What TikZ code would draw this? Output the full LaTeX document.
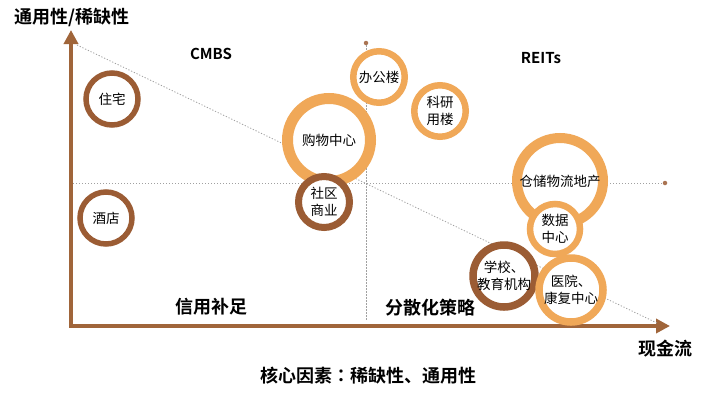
\documentclass[tikz,border=0pt]{standalone}
\usepackage{fontspec}
\setmainfont{Noto Sans CJK SC}[BoldFont={Noto Sans CJK SC Bold}]
\newfontfamily\tcfont{Noto Sans CJK TC}[BoldFont={Noto Sans CJK TC Bold}]
\usetikzlibrary{arrows.meta}
\definecolor{darkbrown}{HTML}{9B5C34}
\definecolor{lightorange}{HTML}{F0A858}
\definecolor{axisbrown}{HTML}{A0653A}
\definecolor{guidegray}{HTML}{A0A0A0}
\begin{document}
\begin{tikzpicture}[x=1pt,y=-1pt,
  ring/.style={circle, draw, fill=white, inner sep=0pt, align=center, text=black,
    font=\fontsize{13.5}{16.5}\selectfont},
  brownring/.style={ring, draw=darkbrown},
  orangering/.style={ring, draw=lightorange},
  guide/.style={draw=guidegray, dash pattern=on 1.2pt off 1.8pt, line width=0.8pt},
  axis/.style={draw=axisbrown, line width=3.5pt, line join=miter,
    {Triangle[length=14pt,width=14pt]}-{Triangle[length=14pt,width=14pt]}},
  enddot/.style={circle, fill=darkbrown!85, inner sep=0pt, minimum size=4.5pt},
  bigtxt/.style={font=\fontsize{18}{20}\selectfont\bfseries},
  midtxt/.style={font=\fontsize{15}{17}\selectfont\bfseries},
]
\useasboundingbox (0,0) rectangle (703,405);
\fill[white] (0,0) rectangle (703,405);

% axes
\coordinate (origin) at (71,326);
\coordinate (ytip) at (71,30);
\coordinate (xtip) at (670,326);
\draw[axis] (ytip) -- (origin) -- (xtip);

% guide lines
\coordinate (d1) at (77,45);
\coordinate (d2) at (657,323);
\coordinate (h1) at (73,183);
\node[enddot] (hdot) at (665,183) {};
\node[enddot] (vdot) at (366,43) {};
\coordinate (v2) at (366,320);
\draw[guide] (d1) -- (d2);
\draw[guide] (h1) -- (hdot);
\draw[guide] (vdot) -- (v2);

% circles
\node[brownring, minimum size=52pt, line width=5.5pt] (zhuzhai) at (112,99) {住宅};
\node[brownring, minimum size=52pt, line width=5.5pt] (jiudian) at (106,218) {酒店};
\node[orangering, minimum size=83pt, line width=11pt] (gouwu) at (329,140) {购物中心};
\node[brownring, minimum size=51pt, line width=7pt] (shequ) at (324,202) {社区\\商业};
\node[orangering, minimum size=51.5pt, line width=6.5pt] (bangong) at (379,77) {办公楼};
\node[orangering, minimum size=51.5pt, line width=6.5pt] (keyan) at (440,111) {科研\\用楼};
\node[orangering, minimum size=86pt, line width=10pt] (cangchu) at (560,181) {仓储物流地产};
\node[orangering, minimum size=50pt, line width=6.5pt] (shuju) at (555,229) {数据\\中心};
\node[brownring, minimum size=62pt, line width=7.5pt] (xuexiao) at (504,276) {学校、\\教育机构};
\node[orangering, minimum size=64pt, line width=7.5pt] (yiyuan) at (571,290) {医院、\\康复中心};

% labels
\node[bigtxt] (ylabel) at (72,17) {通用性/稀缺性};
\node[midtxt] (cmbs) at (211,54) {CMBS};
\node[midtxt] (reits) at (541,58) {REITs};
\node[bigtxt] (xinyong) at (211,307) {信用补足};
\node[bigtxt] (fensan) at (430,308) {分散化策略};
\node[bigtxt] (xlabel) at (665,349) {现金流};
\node[bigtxt] (core) at (368,376) {核心因素{\tcfont：}稀缺性、通用性};
\end{tikzpicture}
\end{document}
